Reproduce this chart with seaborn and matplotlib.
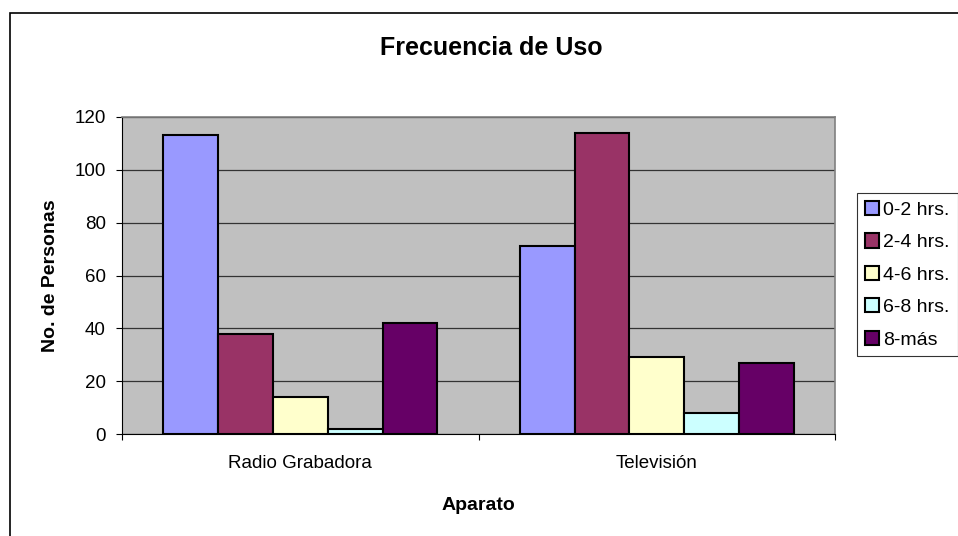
import pandas as pd
import matplotlib
matplotlib.use("Agg")
import matplotlib.pyplot as plt
import seaborn as sns

# Data
aparatos = ["Radio Grabadora", "Televisión"]
rangos = ["0-2 hrs.", "2-4 hrs.", "4-6 hrs.", "6-8 hrs.", "8-más"]
radio_vals = [113, 38, 14, 2, 42]
tv_vals = [71, 114, 29, 8, 27]
colores = ["#9999FF", "#993366", "#FFFFCC", "#CCFFFF", "#660066"]

df = pd.DataFrame({
    "Aparato": [aparatos[0]] * len(rangos) + [aparatos[1]] * len(rangos),
    "Rango": rangos * 2,
    "Personas": radio_vals + tv_vals,
})

sns.set_style("white")
plt.rcParams["font.family"] = ["Liberation Sans", "DejaVu Sans"]
plt.rcParams["text.color"] = "black"
plt.rcParams["axes.labelcolor"] = "black"
plt.rcParams["xtick.color"] = "black"
plt.rcParams["ytick.color"] = "black"

fig = plt.figure(figsize=(9.58, 5.36), dpi=100)
ax = fig.add_axes([0.127, 0.190, 0.745, 0.592])

sns.barplot(data=df, x="Aparato", y="Personas", hue="Rango", hue_order=rangos,
            palette=colores, width=0.77, edgecolor="black", linewidth=1.5,
            saturation=1, ax=ax, zorder=3)

ax.set_facecolor("#C0C0C0")
ax.set_ylim(0, 120)
ax.set_yticks(range(0, 121, 20))
ax.set_xlim(-0.5, 1.5)
ax.yaxis.grid(True, color="#333333", linewidth=0.9, zorder=0)
ax.set_axisbelow(True)
for s in ["top", "right"]:
    ax.spines[s].set_color("#808080")
    ax.spines[s].set_linewidth(1.2)
for s in ["left", "bottom"]:
    ax.spines[s].set_color("black")
    ax.spines[s].set_linewidth(0.8)

ax.tick_params(axis="y", direction="out", length=4.3, width=0.8, labelsize=13.5,
               pad=7, left=True)
ax.tick_params(axis="x", which="major", length=0, labelsize=13.5, pad=15)
ax.set_xticks([-0.5, 0.5, 1.5], minor=True)
ax.tick_params(axis="x", which="minor", direction="out", length=4.3, width=0.8, bottom=True)

ax.set_xlabel("Aparato", fontsize=14, fontweight="bold", labelpad=18)
ax.set_ylabel("No. de Personas", fontsize=14, fontweight="bold", labelpad=11)
fig.text(491 / 958, 1 - 48 / 536, "Frecuencia de Uso", ha="center", va="center",
         fontsize=18, fontweight="bold")

leg = ax.legend(loc="upper left", bbox_to_anchor=(857 / 958, 1 - 193 / 536),
                bbox_transform=fig.transFigure, fontsize=14, frameon=True,
                fancybox=False, edgecolor="black", handlelength=0.75,
                handleheight=0.75, handletextpad=0.2, borderpad=0.4,
                labelspacing=0.75, borderaxespad=0)
leg.get_frame().set_linewidth(0.8)

# outer chart border (right and bottom edges fall outside the picture)
fig.patches.append(plt.Rectangle((10 / 958, -0.2), 2, 1 - 13 / 536 + 0.2,
                                 transform=fig.transFigure, fill=False,
                                 edgecolor="black", linewidth=1.2))

fig.savefig("out.png", dpi=100)
